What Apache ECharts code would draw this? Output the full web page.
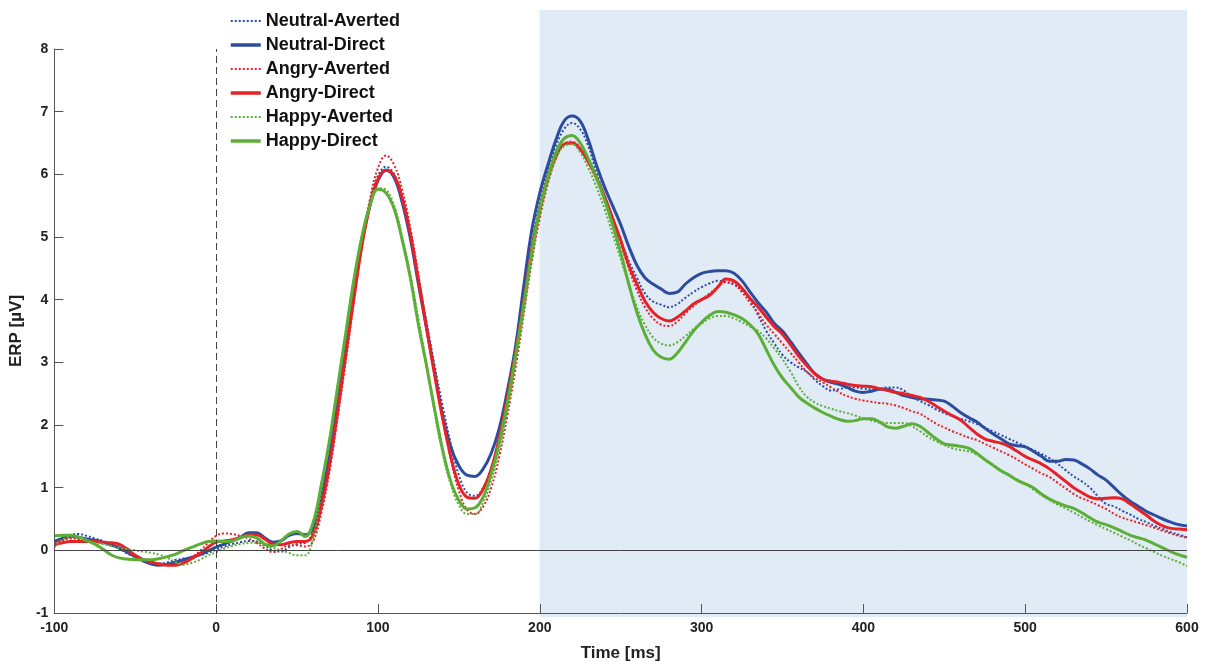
<!DOCTYPE html>
<html>
<head>
<meta charset="utf-8">
<style>
  html, body { margin: 0; padding: 0; background: #fff; }
  #chart-container { width: 1207px; height: 667px; }
</style>
<script src="https://cdn.jsdelivr.net/npm/echarts@6/dist/echarts.min.js"></script>
</head>
<body>
<div id="chart-container"></div>
<script>
// time points (ms), 5 ms apart
var times = [
  -100, -95, -90, -85, -80, -75, -70, -65, -60, -55,
  -50, -45, -40, -35, -30, -25, -20, -15, -10, -5,
  0, 5, 10, 15, 20, 25, 30, 35, 40, 45,
  50, 55, 60, 65, 70, 75, 80, 85, 90, 95,
  100, 105, 110, 115, 120, 125, 130, 135, 140, 145,
  150, 155, 160, 165, 170, 175, 180, 185, 190, 195,
  200, 205, 210, 215, 220, 225, 230, 235, 240, 245,
  250, 255, 260, 265, 270, 275, 280, 285, 290, 295,
  300, 305, 310, 315, 320, 325, 330, 335, 340, 345,
  350, 355, 360, 365, 370, 375, 380, 385, 390, 395,
  400, 405, 410, 415, 420, 425, 430, 435, 440, 445,
  450, 455, 460, 465, 470, 475, 480, 485, 490, 495,
  500, 505, 510, 515, 520, 525, 530, 535, 540, 545,
  550, 555, 560, 565, 570, 575, 580, 585, 590, 595,
  600
];

var neutralAverted = [
  0.15, 0.20, 0.25, 0.26, 0.23, 0.19, 0.15, 0.10, 0.03, -0.05,
  -0.11, -0.17, -0.20, -0.21, -0.19, -0.15, -0.13, -0.11, -0.08, -0.04,
  0.01, 0.06, 0.10, 0.13, 0.15, 0.14, 0.08, 0.00, -0.02, 0.05,
  0.10, 0.12, 0.30, 0.80, 1.45, 2.30, 3.20, 4.10, 4.90, 5.55,
  5.98, 6.12, 6.00, 5.60, 5.05, 4.35, 3.65, 2.95, 2.30, 1.70,
  1.20, 0.92, 0.87, 1.00, 1.30, 1.75, 2.40, 3.10, 3.95, 4.85,
  5.55, 6.05, 6.45, 6.72, 6.82, 6.72, 6.45, 6.03, 5.65, 5.30,
  4.95, 4.62, 4.35, 4.10, 3.97, 3.92, 3.88, 3.93, 4.03, 4.12,
  4.20, 4.26, 4.30, 4.28, 4.24, 4.15, 4.00, 3.75, 3.50, 3.30,
  3.12, 3.00, 2.92, 2.85, 2.72, 2.62, 2.55, 2.57, 2.60, 2.60,
  2.58, 2.57, 2.58, 2.60, 2.60, 2.55, 2.45, 2.38, 2.32, 2.25,
  2.19, 2.14, 2.10, 2.06, 2.02, 1.96, 1.90, 1.84, 1.78, 1.72,
  1.66, 1.60, 1.54, 1.47, 1.38, 1.28, 1.18, 1.10, 1.00, 0.86,
  0.74, 0.70, 0.63, 0.57, 0.50, 0.45, 0.39, 0.34, 0.29, 0.25,
  0.21
];

var neutralDirect = [
  0.14, 0.19, 0.22, 0.21, 0.18, 0.16, 0.13, 0.09, 0.04, -0.03,
  -0.10, -0.17, -0.22, -0.24, -0.22, -0.19, -0.15, -0.11, -0.07, -0.01,
  0.05, 0.10, 0.15, 0.21, 0.28, 0.28, 0.20, 0.13, 0.15, 0.24,
  0.27, 0.25, 0.35, 0.85, 1.50, 2.35, 3.25, 4.10, 4.90, 5.50,
  5.90, 6.07, 5.95, 5.55, 4.98, 4.25, 3.55, 2.85, 2.15, 1.65,
  1.35, 1.20, 1.18, 1.30, 1.55, 1.95, 2.55, 3.25, 4.20, 5.10,
  5.70, 6.15, 6.55, 6.85, 6.93, 6.85, 6.55, 6.15, 5.80, 5.50,
  5.20, 4.85, 4.55, 4.35, 4.25, 4.17, 4.10, 4.12, 4.25, 4.35,
  4.42, 4.45, 4.46, 4.46, 4.42, 4.30, 4.12, 3.95, 3.80, 3.62,
  3.50, 3.33, 3.15, 2.98, 2.82, 2.73, 2.68, 2.65, 2.60, 2.54,
  2.52, 2.54, 2.57, 2.57, 2.52, 2.47, 2.44, 2.42, 2.41, 2.40,
  2.38, 2.30, 2.20, 2.12, 2.05, 1.95, 1.86, 1.78, 1.70, 1.67,
  1.65, 1.58, 1.50, 1.42, 1.42, 1.45, 1.44, 1.38, 1.30, 1.20,
  1.12, 1.00, 0.88, 0.78, 0.70, 0.62, 0.56, 0.50, 0.45, 0.41,
  0.39
];

var angryAverted = [
  0.12, 0.16, 0.19, 0.18, 0.16, 0.14, 0.13, 0.11, 0.08, 0.00,
  -0.10, -0.15, -0.19, -0.21, -0.22, -0.23, -0.19, -0.11, -0.01, 0.12,
  0.23, 0.27, 0.26, 0.23, 0.19, 0.12, 0.03, -0.03, 0.02, 0.08,
  0.08, 0.06, 0.15, 0.60, 1.25, 2.10, 3.00, 3.95, 4.85, 5.60,
  6.10, 6.30, 6.15, 5.75, 5.15, 4.40, 3.60, 2.85, 2.10, 1.45,
  0.95, 0.65, 0.58, 0.70, 1.00, 1.50, 2.15, 2.90, 3.75, 4.60,
  5.30, 5.85, 6.25, 6.48, 6.52, 6.42, 6.20, 5.92, 5.60, 5.25,
  4.90, 4.50, 4.15, 3.88, 3.70, 3.60, 3.58, 3.65, 3.78, 3.90,
  4.00, 4.10, 4.20, 4.28, 4.25, 4.12, 3.95, 3.78, 3.60, 3.45,
  3.30, 3.15, 3.00, 2.85, 2.75, 2.68, 2.60, 2.52, 2.46, 2.42,
  2.39, 2.37, 2.35, 2.34, 2.31, 2.27, 2.22, 2.18, 2.10, 2.02,
  1.96, 1.90, 1.85, 1.80, 1.76, 1.70, 1.64, 1.58, 1.52, 1.45,
  1.37, 1.30, 1.23, 1.17, 1.08, 0.99, 0.90, 0.83, 0.78, 0.72,
  0.66, 0.58, 0.52, 0.48, 0.44, 0.40, 0.36, 0.31, 0.27, 0.23,
  0.20
];

var angryDirect = [
  0.09, 0.12, 0.14, 0.14, 0.14, 0.14, 0.13, 0.12, 0.10, 0.02,
  -0.08, -0.15, -0.19, -0.22, -0.24, -0.24, -0.20, -0.13, -0.05, 0.05,
  0.13, 0.15, 0.17, 0.20, 0.25, 0.25, 0.18, 0.10, 0.09, 0.12,
  0.14, 0.14, 0.25, 0.70, 1.35, 2.20, 3.10, 4.00, 4.85, 5.50,
  5.92, 6.06, 5.98, 5.62, 5.05, 4.30, 3.55, 2.80, 2.10, 1.50,
  1.05, 0.85, 0.83, 0.98, 1.30, 1.80, 2.45, 3.15, 3.95, 4.80,
  5.45, 5.95, 6.30, 6.48, 6.50, 6.40, 6.20, 5.95, 5.65, 5.30,
  4.95, 4.55, 4.25, 3.98, 3.80, 3.70, 3.66, 3.72, 3.82, 3.93,
  4.00, 4.07, 4.20, 4.33, 4.30, 4.18, 4.02, 3.88, 3.72, 3.57,
  3.45, 3.28, 3.10, 2.95, 2.82, 2.73, 2.70, 2.68, 2.65, 2.63,
  2.62, 2.61, 2.58, 2.55, 2.52, 2.50, 2.47, 2.44, 2.38, 2.30,
  2.22, 2.15, 2.08, 1.97, 1.86, 1.78, 1.74, 1.71, 1.66, 1.58,
  1.50, 1.44, 1.38, 1.30, 1.20, 1.10, 1.00, 0.92, 0.85, 0.82,
  0.83, 0.84, 0.82, 0.74, 0.65, 0.56, 0.46, 0.39, 0.35, 0.34,
  0.33
];

var happyAverted = [
  0.05, 0.17, 0.22, 0.20, 0.15, 0.12, 0.10, 0.07, 0.04, 0.02,
  0.00, -0.02, -0.04, -0.07, -0.12, -0.19, -0.23, -0.20, -0.15, -0.08,
  -0.03, 0.03, 0.07, 0.10, 0.12, 0.12, 0.08, 0.04, 0.00, -0.04,
  -0.08, -0.08, 0.20, 0.95, 1.70, 2.55, 3.40, 4.25, 4.95, 5.50,
  5.78, 5.75, 5.50, 5.00, 4.40, 3.70, 2.95, 2.20, 1.55, 1.05,
  0.72, 0.58, 0.58, 0.76, 1.12, 1.62, 2.25, 3.00, 3.82, 4.65,
  5.35, 5.88, 6.25, 6.45, 6.48, 6.35, 6.10, 5.80, 5.45, 5.05,
  4.65, 4.25, 3.88, 3.60, 3.40, 3.30, 3.27, 3.32, 3.42, 3.53,
  3.62, 3.70, 3.74, 3.74, 3.70, 3.64, 3.57, 3.50, 3.38, 3.22,
  3.05, 2.85, 2.62, 2.45, 2.36, 2.30, 2.26, 2.22, 2.19, 2.15,
  2.11, 2.07, 2.04, 2.03, 2.03, 2.03, 1.98, 1.90, 1.81, 1.74,
  1.68, 1.63, 1.60, 1.58, 1.53, 1.45, 1.37, 1.28, 1.20, 1.13,
  1.06, 0.97, 0.88, 0.80, 0.73, 0.67, 0.60, 0.53, 0.46, 0.40,
  0.34, 0.28, 0.22, 0.16, 0.09, 0.03, -0.03, -0.09, -0.14, -0.19,
  -0.25
];

var happyDirect = [
  0.23, 0.24, 0.24, 0.21, 0.16, 0.10, 0.02, -0.07, -0.12, -0.14,
  -0.15, -0.15, -0.15, -0.13, -0.10, -0.06, 0.00, 0.05, 0.10, 0.14,
  0.15, 0.14, 0.15, 0.20, 0.23, 0.20, 0.10, 0.07, 0.15, 0.26,
  0.30, 0.22, 0.45, 1.05, 1.75, 2.60, 3.45, 4.30, 5.00, 5.50,
  5.76, 5.70, 5.45, 4.95, 4.35, 3.60, 2.95, 2.25, 1.60, 1.10,
  0.80, 0.66, 0.68, 0.85, 1.22, 1.72, 2.35, 3.10, 3.90, 4.75,
  5.45, 5.95, 6.35, 6.57, 6.62, 6.50, 6.25, 5.95, 5.60, 5.20,
  4.75, 4.25, 3.80, 3.45, 3.20, 3.08, 3.05, 3.15, 3.32, 3.50,
  3.64, 3.75, 3.81, 3.80, 3.76, 3.70, 3.60, 3.45, 3.20, 2.95,
  2.75, 2.60, 2.45, 2.35, 2.27, 2.20, 2.14, 2.09, 2.06, 2.07,
  2.10, 2.10, 2.05, 1.97, 1.95, 1.98, 2.02, 1.98, 1.88, 1.78,
  1.70, 1.68, 1.66, 1.63, 1.55, 1.45, 1.36, 1.27, 1.20, 1.12,
  1.06, 1.00, 0.90, 0.82, 0.76, 0.71, 0.67, 0.60, 0.52, 0.45,
  0.41, 0.36, 0.30, 0.24, 0.20, 0.16, 0.10, 0.04, -0.02, -0.07,
  -0.11
];

// analysis window (ms)
var windowStart = 200;
var windowEnd = 600;

var FONT = 'Liberation Sans';
var BLUE = '#2c4d9f';
var RED = '#e52227';
var GREEN = '#5bae36';

var dom = document.getElementById('chart-container');
var myChart = echarts.init(dom);

function toPairs(vals) {
  return times.map(function (t, i) {
    return [t, vals[i]];
  });
}

function erpSeries(name, vals, color, dotted) {
  return {
    name: name,
    type: 'line',
    xAxisIndex: 1,
    yAxisIndex: 1,
    data: toPairs(vals),
    smooth: 0.4,
    symbol: 'none',
    z: 2,
    lineStyle: {
      color: color,
      width: dotted ? 2 : 3,
      type: dotted ? [2, 2] : 'solid'
    },
    itemStyle: { color: color }
  };
}

var axisColor = '#555';
var labelStyle = { fontWeight: 'bold', fontSize: 14, color: '#222', fontFamily: FONT };
var nameStyle = { fontWeight: 'bold', fontSize: 17, color: '#222', fontFamily: FONT };

var series = [
  {
    // shaded window behind the curves
    type: 'line',
    xAxisIndex: 0,
    yAxisIndex: 0,
    data: [[windowStart, 1], [windowEnd, 1]],
    symbol: 'none',
    silent: true,
    z: 1,
    lineStyle: { width: 0 },
    areaStyle: { color: '#e1ebf5', opacity: 1 }
  },
  erpSeries('Neutral-Averted', neutralAverted, BLUE, true),
  erpSeries('Neutral-Direct', neutralDirect, BLUE, false),
  erpSeries('Angry-Averted', angryAverted, RED, true),
  erpSeries('Angry-Direct', angryDirect, RED, false),
  erpSeries('Happy-Averted', happyAverted, GREEN, true),
  erpSeries('Happy-Direct', happyDirect, GREEN, false)
];

// zero line and stimulus onset
series[1].markLine = {
  silent: true,
  symbol: ['none', 'none'],
  label: { show: false },
  data: [
    { yAxis: 0, lineStyle: { type: 'solid', color: '#444', width: 1 } },
    { xAxis: 0, lineStyle: { type: [7, 4], color: '#444', width: 1 } }
  ]
};

var legendNames = ['Neutral-Averted', 'Neutral-Direct', 'Angry-Averted', 'Angry-Direct', 'Happy-Averted', 'Happy-Direct'];

option = {
  backgroundColor: '#fff',
  animation: false,
  grid: [
    { left: 54, right: 20, top: 10, bottom: 50 },
    { left: 54, right: 20, top: 49, bottom: 50 }
  ],
  legend: {
    data: legendNames.map(function (n) {
      var solid = n.indexOf('Direct') > -1;
      return { name: n, lineStyle: { width: solid ? 3.5 : 2 } };
    }),
    orient: 'vertical',
    left: 224,
    top: 7,
    itemWidth: 30,
    itemHeight: 14,
    itemGap: 6,
    selectedMode: false,
    itemStyle: { color: 'rgba(0,0,0,0)', borderWidth: 0, opacity: 0 },
    textStyle: { fontWeight: 'bold', fontSize: 18, color: '#111', fontFamily: FONT }
  },
  xAxis: [
    { gridIndex: 0, type: 'value', min: -100, max: 600, show: false },
    {
      gridIndex: 1,
      type: 'value',
      min: -100,
      max: 600,
      interval: 100,
      z: 3,
      name: 'Time [ms]',
      nameLocation: 'middle',
      nameGap: 32,
      nameTextStyle: nameStyle,
      axisLine: { onZero: false, lineStyle: { color: axisColor, width: 1 } },
      axisTick: { inside: true, length: 9, lineStyle: { color: axisColor } },
      axisLabel: Object.assign({ margin: 8 }, labelStyle),
      splitLine: { show: false }
    }
  ],
  yAxis: [
    { gridIndex: 0, type: 'value', min: 0, max: 1, show: false },
    {
      gridIndex: 1,
      type: 'value',
      min: -1,
      max: 8,
      interval: 1,
      z: 3,
      name: 'ERP [µV]',
      nameLocation: 'middle',
      nameGap: 20,
      nameRotate: 90,
      nameTextStyle: nameStyle,
      axisLine: { show: true, onZero: false, lineStyle: { color: axisColor, width: 1 } },
      axisTick: { show: true, inside: true, length: 9, lineStyle: { color: axisColor } },
      axisLabel: Object.assign({ margin: 6 }, labelStyle),
      splitLine: { show: false }
    }
  ],
  series: series
};

if (option && typeof option === 'object') {
  myChart.setOption(option);
}

window.addEventListener('resize', myChart.resize);
</script>
</body>
</html>
